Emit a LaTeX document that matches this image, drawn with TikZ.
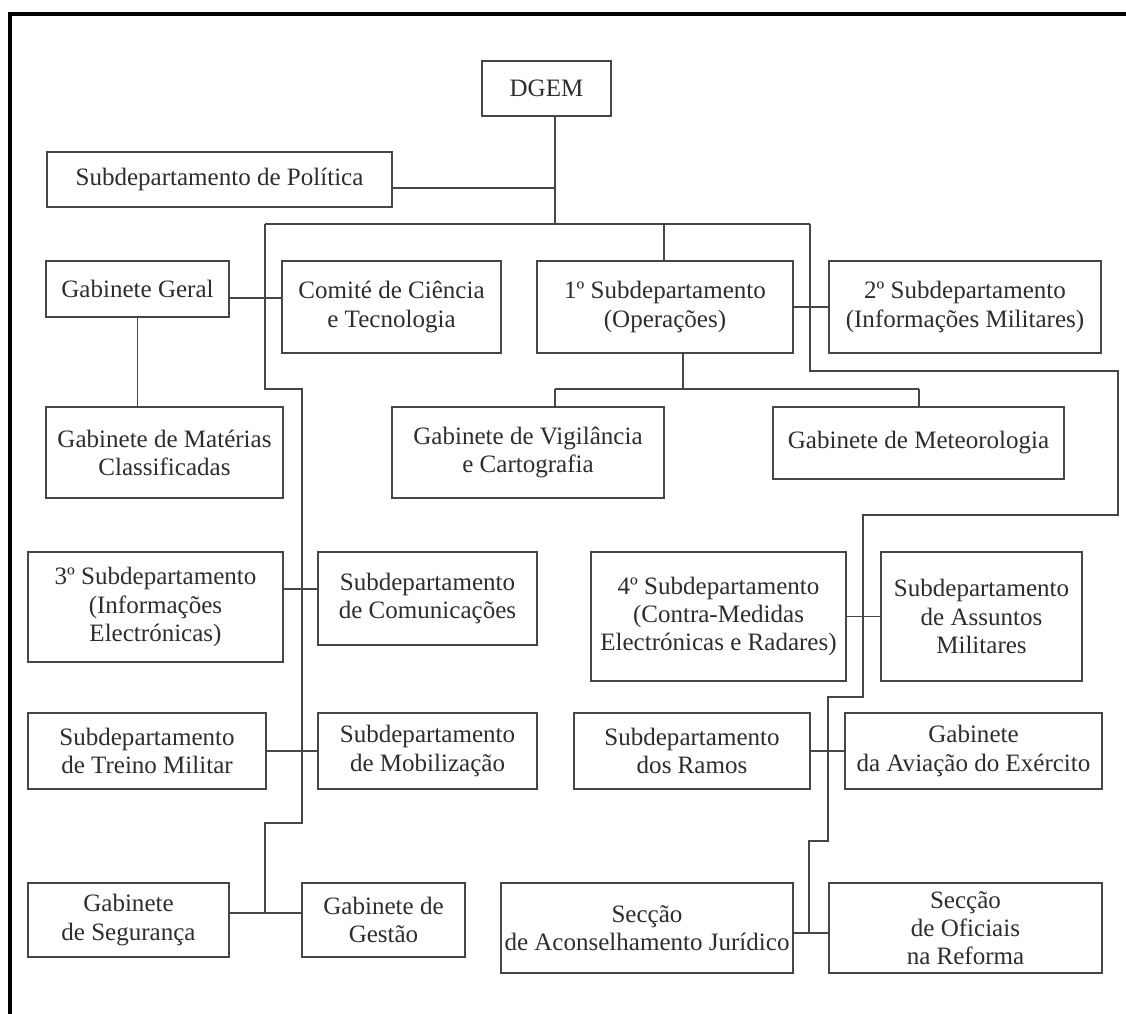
\documentclass[tikz,border=0pt]{standalone}
\usepackage{fontspec}
\setmainfont{Liberation Serif}
\definecolor{ink}{RGB}{45,45,45}
\definecolor{edge}{RGB}{70,70,70}
\tikzset{
  box/.style={draw=edge, line width=1.2pt, inner sep=0pt, align=center, text=ink,
    font=\fontsize{17.8}{20}\selectfont},
  link/.style={draw=edge, line width=1.1pt},
  frameline/.style={draw=black, line width=3pt}
}
\newcommand\bx[6]{%
  \pgfmathsetmacro\bw{(#4-#2)*0.025}%
  \pgfmathsetmacro\bh{(#5-#3)*0.025}%
  \node[box, minimum width=\bw cm, minimum height=\bh cm] (#1) at ({(#2+#4)/2},{(#3+#5)/2}) {#6};}
\begin{document}
\begin{tikzpicture}[x=0.025cm, y=-0.025cm]
\useasboundingbox (0,0) rectangle (1126,1014);
\fill[white] (0,0) rectangle (1126,1014);
\draw[frameline] (10,1020) -- (10,14) -- (1130,14);

\bx{DGEM}{482}{61}{611}{116}{DGEM}
\bx{Pol}{47}{152}{392}{207}{Subdepartamento de Política}
\bx{GG}{46}{261}{229}{317}{Gabinete Geral}
\bx{CT}{282}{261}{501}{353}{Comité de Ciência\\e Tecnologia}
\bx{S1}{537}{261}{793}{353}{1º Subdepartamento\\(Operações)}
\bx{S2}{829}{261}{1101}{353}{2º Subdepartamento\\(Informações Militares)}
\bx{Mat}{46}{407}{283}{498}{Gabinete de Matérias\\Classificadas}
\bx{Vig}{392}{407}{664}{498}{Gabinete de Vigilância\\e Cartografia}
\bx{Met}{773}{407}{1064}{479}{Gabinete de Meteorologia}
\bx{S3}{28}{552}{283}{662}{3º Subdepartamento\\(Informações\\Electrónicas)}
\bx{Comu}{318}{552}{537}{645}{Subdepartamento\\de Comunicações}
\bx{S4}{591}{552}{846}{681}{4º Subdepartamento\\(Contra-Medidas\\Electrónicas e Radares)}
\bx{AM}{881}{552}{1082}{681}{Subdepartamento\\de Assuntos\\Militares}
\bx{Tre}{28}{713}{266}{789}{Subdepartamento\\de Treino Militar}
\bx{Mob}{318}{713}{537}{789}{Subdepartamento\\de Mobilização}
\bx{Ram}{574}{713}{810}{789}{Subdepartamento\\dos Ramos}
\bx{Avi}{845}{713}{1102}{789}{Gabinete\\da Aviação do Exército}
\bx{Seg}{28}{883}{229}{957}{Gabinete\\de Segurança}
\bx{Ges}{302}{883}{465}{957}{Gabinete de\\Gestão}
\bx{Jur}{501}{883}{793}{973}{Secção\\de Aconselhamento Jurídico}
\bx{Ofi}{829}{883}{1102}{973}{Secção\\de Oficiais\\na Reforma}

% junction coordinates
\coordinate (top) at (555,224);
\coordinate (polj) at (555,188);
\coordinate (barL) at (265,224);
\coordinate (barR) at (810,224);
\coordinate (s1j) at (664,224);
\coordinate (lj1) at (265,389);
\coordinate (lj2) at (302,389);
\coordinate (lj3) at (302,823);
\coordinate (lj4) at (265,823);
\coordinate (lj5) at (265,913);
\coordinate (rj1) at (810,371);
\coordinate (rj2) at (1118,371);
\coordinate (rj3) at (1118,515);
\coordinate (rj4) at (863,515);
\coordinate (rj5) at (863,697);
\coordinate (rj6) at (828,697);
\coordinate (rj7) at (828,841);
\coordinate (rj8) at (809,841);
\coordinate (rj9) at (809,933);
\coordinate (opj) at (683,389);
\coordinate (vigj) at (555,389);
\coordinate (metj) at (919,389);

% trunk
\draw[link] (DGEM.south -| top) -- (top);
\draw[link] (Pol.east |- polj) -- (polj);
\draw[link] (barL) -- (barR);
\draw[link] (s1j) -- (S1.north -| s1j);
% left branch
\draw[link] (barL) -- (lj1) -- (lj2) -- (lj3) -- (lj4) -- (lj5);
\draw[link] ([yshift=-0.225cm]GG.east) -- ([yshift=-0.225cm]GG.east -| CT.west);
\draw[link] (GG.south) -- (GG.south |- Mat.north);
\draw[link] ([yshift=0.45cm]S3.east) -- ([yshift=0.45cm]S3.east -| Comu.west);
\draw[link] (Tre.east |- Mob.west) -- (Mob.west);
\draw[link] (Seg.east |- lj5) -- (Ges.west |- lj5);
% right branch
\draw[link] (barR) -- (rj1) -- (rj2) -- (rj3) -- (rj4) -- (rj5) -- (rj6) -- (rj7) -- (rj8) -- (rj9);
\draw[link] (S1.east) -- (S2.west);
\draw[link] (S4.east) -- (AM.west);
\draw[link] (Ram.east) -- (Avi.west);
\draw[link] (Jur.east |- rj9) -- (Ofi.west |- rj9);
% operations sub-branch
\draw[link] (opj |- S1.south) -- (opj);
\draw[link] (vigj) -- (metj);
\draw[link] (vigj) -- (Vig.north -| vigj);
\draw[link] (metj) -- (Met.north -| metj);
\end{tikzpicture}
\end{document}
